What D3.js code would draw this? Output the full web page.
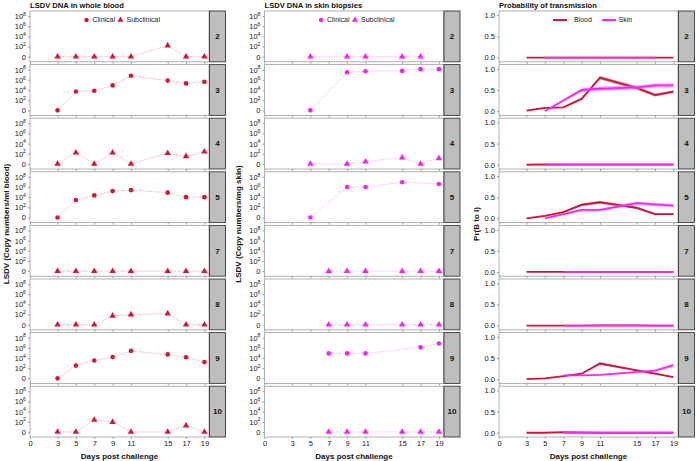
<!DOCTYPE html>
<html><head><meta charset="utf-8">
<script src="https://cdn.jsdelivr.net/npm/d3@7"></script>
<style>body{margin:0;background:#fff}svg{display:block}text{font-family:"Liberation Sans",Arial,sans-serif}</style>
</head><body><svg id="c" width="696" height="461"></svg>
<script>
// ---------- data ----------
const days = [3,5,7,9,11,15,17,19];
const animals = ["2","3","4","5","7","8","9","10"];
const status = ["Subclinical","Clinical","Subclinical","Clinical","Subclinical","Subclinical","Clinical","Subclinical"];
const xTicks = [0,3,5,7,9,11,15,17,19];
const logTicks = [0,2,4,6,8];
const probTicks = [0,0.5,1];
const colTitles = ["LSDV DNA in whole blood","LSDV DNA in skin biopsies","Probability of transmission"];
const yTitles = ["LSDV (Copy numbers/ml blood)","LSDV (Copy numbers/mg skin)","Pr(B to I)"];
const xTitle = "Days post challenge";

// LSDV DNA in whole blood, log10 copy numbers (0 = not detected)
const blood2  = [0,0,0,0,0,2.2,0,0];
const blood3  = [0,3.7,3.85,4.9,6.8,5.85,5.3,5.6];
const blood4  = [0,2.2,0,2.2,0,2.1,1.5,2.4];
const blood5  = [0,3.45,4.35,5.2,5.4,4.9,4.0,4.0];
const blood7  = [0,0,0,0,0,0,0,0];
const blood8  = [0,0,0,1.75,2.0,2.2,0,0];
const blood9  = [0,2.5,3.5,4.2,5.4,4.7,4.15,3.2];
const blood10 = [0,0,2.35,1.95,0,0,1.25,0];
// LSDV DNA in skin biopsies
const skin2  = [null,0,null,0,0,0,0,null];
const skin3  = [null,0,null,7.5,7.7,7.76,8.1,8.1];
const skin4  = [null,0,null,0,0.45,1.25,0,1.1];
const skin5  = [null,0,null,6.0,6.0,6.95,null,6.6];
const skin7  = [null,null,0,0,0,0,0,0];
const skin8  = [null,null,0,0,0,0,0,0];
const skin9  = [null,null,4.9,4.9,4.9,null,6.1,6.85];
const skin10 = [null,null,0,0,0,0,0,0];
// Probability of transmission
const pBlood2  = [0,0,0,0,0,0,0,0];
const pBlood3  = [0.015,0.08,0.09,0.29,0.79,0.55,0.38,0.46];
const pBlood4  = [0,0.01,0.005,0.005,0.005,0.005,0.005,0.005];
const pBlood5  = [0,0.06,0.15,0.32,0.38,0.25,0.1,0.1];
const pBlood7  = [0,0,0,0,0,0,0,0];
const pBlood8  = [0,0,0,0,0.005,0.005,0,0];
const pBlood9  = [0,0.02,0.07,0.13,0.37,0.21,0.13,0.05];
const pBlood10 = [0,0,0.015,0.01,0,0,0.005,0];
const pSkin2  = [null,0,null,0,0,0,0,null];
const pSkin3  = [null,0,null,0.5,0.53,0.56,0.61,0.61];
const pSkin4  = [null,0.005,null,0.01,0.01,0.01,0.01,0.01];
const pSkin5  = [null,0,null,0.2,0.2,0.36,null,0.3];
const pSkin7  = [null,null,0,0,0,0,0,0];
const pSkin8  = [null,null,0,0,0,0,0,0];
const pSkin9  = [null,null,0.09,0.09,0.1,null,0.2,0.33];
const pSkin10 = [null,null,0,0,0,0,0,0];
// half-width of uncertainty ribbons
const bandFlat   = [0.006,0.006,0.006,0.006,0.006,0.006,0.006,0.006];
const bandBlood3 = [0.005,0.01,0.01,0.02,0.04,0.04,0.035,0.03];
const bandSkin3  = [null,0.005,null,0.04,0.05,0.05,0.05,0.05];
const bandBlood5 = [0.005,0.01,0.015,0.03,0.03,0.03,0.02,0.02];
const bandSkin5  = [null,0.005,null,0.03,0.03,0.04,null,0.04];
const bandBlood9 = [0.005,0.005,0.01,0.01,0.03,0.02,0.02,0.01];
const bandSkin9  = [null,null,0.01,0.01,0.01,null,0.02,0.035];

const bloodRows = [blood2,blood3,blood4,blood5,blood7,blood8,blood9,blood10];
const skinRows  = [skin2,skin3,skin4,skin5,skin7,skin8,skin9,skin10];
const pBloodRows = [pBlood2,pBlood3,pBlood4,pBlood5,pBlood7,pBlood8,pBlood9,pBlood10];
const pSkinRows  = [pSkin2,pSkin3,pSkin4,pSkin5,pSkin7,pSkin8,pSkin9,pSkin10];
const bBloodRows = [bandFlat,bandBlood3,bandFlat,bandBlood5,bandFlat,bandFlat,bandBlood9,bandFlat];
const bSkinRows  = [bandFlat,bandSkin3,bandFlat,bandSkin5,bandFlat,bandFlat,bandSkin9,bandFlat];

// ---------- styling / layout ----------
const colBlood = "#dc143c", colSkin = "#ff1aff";
const lineBlood = "#d4123c", lineSkin = "#ff22ff";
const colLeft = [30, 264.5, 499];
const panelW = 179, stripW = 17;
const top0 = 11, rowStep = 53.6, panelH = 50.8;
const svg = d3.select("#c");

function toPts(vals){ return days.map((d,i)=>({d, v: vals[i]})).filter(p=>p.v!=null); }

function styleAxis(g){
  g.select(".domain").remove();
  g.selectAll(".tick line").attr("stroke","#888").attr("stroke-width",0.8);
  g.selectAll(".tick text").attr("fill","#222").attr("font-size",7.5);
}

for (let c=0;c<3;c++){
  const x = d3.scaleLinear().domain([0,19.5]).range([colLeft[c], colLeft[c]+panelW]);
  svg.append("text").attr("x",colLeft[c]).attr("y",7.5).attr("font-size",7.6).attr("font-weight","bold").attr("fill","#111").text(colTitles[c]);
  const yc = top0 + (7*rowStep+panelH)/2;
  const ytx = [6, 238, 476][c];
  svg.append("text").attr("transform",`translate(${ytx},${yc}) rotate(-90)`).attr("text-anchor","middle")
     .attr("dy","0.35em").attr("font-size",8).attr("font-weight","bold").attr("fill","#111").text(yTitles[c]);
  svg.append("text").attr("x",colLeft[c]+panelW/2).attr("y",459).attr("text-anchor","middle")
     .attr("font-size",8).attr("font-weight","bold").attr("fill","#111").text(xTitle);

  animals.forEach((a,i)=>{
    const top = top0 + i*rowStep;
    const g = svg.append("g");
    g.append("rect").attr("x",colLeft[c]).attr("y",top).attr("width",panelW).attr("height",panelH)
      .attr("fill","#fff").attr("stroke","#a8a8a8").attr("stroke-width",0.9);
    g.append("rect").attr("x",colLeft[c]+panelW+0.5).attr("y",top).attr("width",stripW-1).attr("height",panelH)
      .attr("fill","#bebebe").attr("stroke","#3a3a3a").attr("stroke-width",0.9);
    g.append("text").attr("x",colLeft[c]+panelW+stripW/2).attr("y",top+panelH/2).attr("dy","0.35em")
      .attr("text-anchor","middle").attr("font-size",8).attr("font-weight","bold").attr("fill","#111").text(a);

    const y = c<2 ? d3.scaleLinear().domain([-1,9]).range([top+panelH, top])
                  : d3.scaleLinear().domain([-0.1,1.1]).range([top+panelH, top]);
    const ax = d3.axisBottom(x).tickValues(xTicks).tickSize(2).tickPadding(1.5)
      .tickFormat(i===7 ? d3.format("d") : ()=>"");
    g.append("g").attr("transform",`translate(0,${top+panelH})`).call(ax).call(styleAxis);
    if (c<2){
      const ay = d3.axisLeft(y).tickValues(logTicks).tickSize(2).tickPadding(2);
      const gy = g.append("g").attr("transform",`translate(${colLeft[c]},0)`).call(ay).call(styleAxis);
      gy.selectAll(".tick text").each(function(v){
        const t = d3.select(this).text("");
        if (v===0){ t.text("0"); }
        else { t.append("tspan").text("10"); t.append("tspan").attr("dy",-3.2).attr("font-size",5.2).text(v); }
      });
    } else {
      const ay = d3.axisLeft(y).tickValues(probTicks).tickSize(2).tickPadding(2).tickFormat(d3.format(".1f"));
      g.append("g").attr("transform",`translate(${colLeft[c]},0)`).call(ay).call(styleAxis);
    }

    if (c<2){
      const vals = c===0 ? bloodRows[i] : skinRows[i];
      const col = c===0 ? colBlood : colSkin;
      const pts = toPts(vals);
      const line = d3.line().x(p=>x(p.d)).y(p=>y(p.v));
      g.append("path").attr("d",line(pts)).attr("fill","none").attr("stroke",col).attr("stroke-opacity",0.4)
        .attr("stroke-width",0.9).attr("stroke-dasharray","1.3,1.3");
      const sym = d3.symbol().type(status[i]==="Clinical" ? d3.symbolCircle : d3.symbolTriangle)
        .size(status[i]==="Clinical" ? 17 : 18);
      g.selectAll(null).data(pts).enter().append("path").attr("d",sym)
        .attr("transform",p=>`translate(${x(p.d)},${y(p.v)})`).attr("fill",col);
    } else {
      const series = [
        {v:pBloodRows[i], b:bBloodRows[i], line:lineBlood, band:"#a8283f"},
        {v:pSkinRows[i],  b:bSkinRows[i],  line:lineSkin,  band:"#ff66ff"}
      ];
      series.forEach(s=>{
        const pts = days.map((d,k)=>({d, v:s.v[k], b:s.b[k]==null?0.006:s.b[k]})).filter(p=>p.v!=null);
        const area = d3.area().x(p=>x(p.d)).y0(p=>y(Math.max(p.v-p.b,0))).y1(p=>y(p.v+p.b));
        g.append("path").attr("d",area(pts)).attr("fill",s.band).attr("fill-opacity",0.55);
        const line = d3.line().x(p=>x(p.d)).y(p=>y(p.v));
        g.append("path").attr("d",line(pts)).attr("fill","none").attr("stroke",s.line).attr("stroke-width",1.8);
      });
    }

    if (i===0){
      const ly = top+9;
      const L = colLeft[c];
      if (c<2){
        const col = c===0 ? colBlood : colSkin;
        g.append("path").attr("d",d3.symbol().type(d3.symbolCircle).size(15)).attr("transform",`translate(${L+56.5},${ly})`).attr("fill",col);
        g.append("text").attr("x",L+62.5).attr("y",ly).attr("dy","0.35em").attr("font-size",7).attr("fill","#222").text("Clinical");
        g.append("path").attr("d",d3.symbol().type(d3.symbolTriangle).size(16)).attr("transform",`translate(${L+90.5},${ly})`).attr("fill",col);
        g.append("text").attr("x",L+96.5).attr("y",ly).attr("dy","0.35em").attr("font-size",7).attr("fill","#222").text("Subclinical");
      } else {
        g.append("line").attr("x1",L+54).attr("x2",L+68).attr("y1",ly).attr("y2",ly).attr("stroke",lineBlood).attr("stroke-width",2);
        g.append("text").attr("x",L+75).attr("y",ly).attr("dy","0.35em").attr("font-size",7).attr("fill","#222").text("Blood");
        g.append("line").attr("x1",L+103).attr("x2",L+117).attr("y1",ly).attr("y2",ly).attr("stroke",lineSkin).attr("stroke-width",2);
        g.append("text").attr("x",L+119.5).attr("y",ly).attr("dy","0.35em").attr("font-size",7).attr("fill","#222").text("Skin");
      }
    }
  });
}
</script></body></html>
